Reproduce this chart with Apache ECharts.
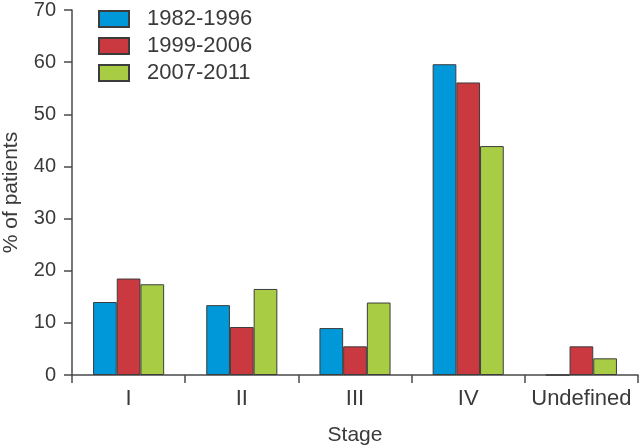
<!DOCTYPE html>
<html>
<head>
<meta charset="utf-8">
<script src="https://cdn.jsdelivr.net/npm/echarts@6/dist/echarts.min.js"></script>
<style>
  html, body { margin: 0; padding: 0; background: #fff; }
  #container { width: 642px; height: 447px; }
</style>
</head>
<body>
<div id="container"></div>
<script>
// stages on the x axis
var stages = ['I', 'II', 'III', 'IV', 'Undefined']
// % of patients per period
var period1 = [14.0, 13.4, 9.0, 59.6, 0]
var period2 = [18.5, 9.2, 5.5, 56.1, 5.5]
var period3 = [17.4, 16.5, 13.9, 43.9, 3.2]
var periodNames = ['1982-1996', '1999-2006', '2007-2011']
var yTicks = [0, 70, 10] // min, max, interval

var textColor = '#3a3a3a'
var lineColor = '#4a4a4a'
var font = 'Liberation Sans, Arial, sans-serif'

function barSeries(name, data, color) {
  return {
    name: name,
    type: 'bar',
    data: data,
    barWidth: 23.7,
    barGap: '0%',
    itemStyle: { color: color, borderColor: '#3c3c3c', borderWidth: 1 }
  }
}

var chart = echarts.init(document.getElementById('container'))
chart.setOption({
  backgroundColor: '#ffffff',
  animation: false,
  textStyle: { fontFamily: font },
  grid: { left: 72, right: 4, top: 10, bottom: 72, containLabel: false, outerBoundsMode: 'none' },
  legend: {
    orient: 'vertical',
    left: 93,
    top: 3,
    itemWidth: 30,
    itemHeight: 16,
    itemGap: 5,
    icon: 'rect',
    textStyle: { fontSize: 22, lineHeight: 16, color: textColor, fontFamily: font, padding: [0, 0, 0, 13] },
    data: periodNames
  },
  xAxis: {
    type: 'category',
    data: stages,
    name: 'Stage',
    nameLocation: 'middle',
    nameGap: 50,
    nameTextStyle: { fontSize: 21, color: textColor, fontFamily: font },
    axisLine: { lineStyle: { color: lineColor, width: 1.5 } },
    axisTick: { show: true, length: 8, inside: false, lineStyle: { color: lineColor, width: 1.5 } },
    axisLabel: { fontSize: 22, color: textColor, margin: 13, interval: 0, fontFamily: font },
    splitLine: { show: false }
  },
  yAxis: {
    type: 'value',
    min: yTicks[0],
    max: yTicks[1],
    interval: yTicks[2],
    name: '% of patients',
    nameLocation: 'middle',
    nameGap: 50,
    nameRotate: 90,
    nameTextStyle: { fontSize: 21, color: textColor, fontFamily: font },
    axisLine: { show: true, lineStyle: { color: lineColor, width: 1.5 } },
    axisTick: { show: true, length: 8, inside: false, lineStyle: { color: lineColor, width: 1.5 } },
    axisLabel: { fontSize: 20, color: textColor, margin: 16, fontFamily: font },
    splitLine: { show: false }
  },
  series: [
    barSeries(periodNames[0], period1, '#0098d8'),
    barSeries(periodNames[1], period2, '#c9393f'),
    barSeries(periodNames[2], period3, '#a8cd45')
  ]
})
</script>
</body>
</html>
